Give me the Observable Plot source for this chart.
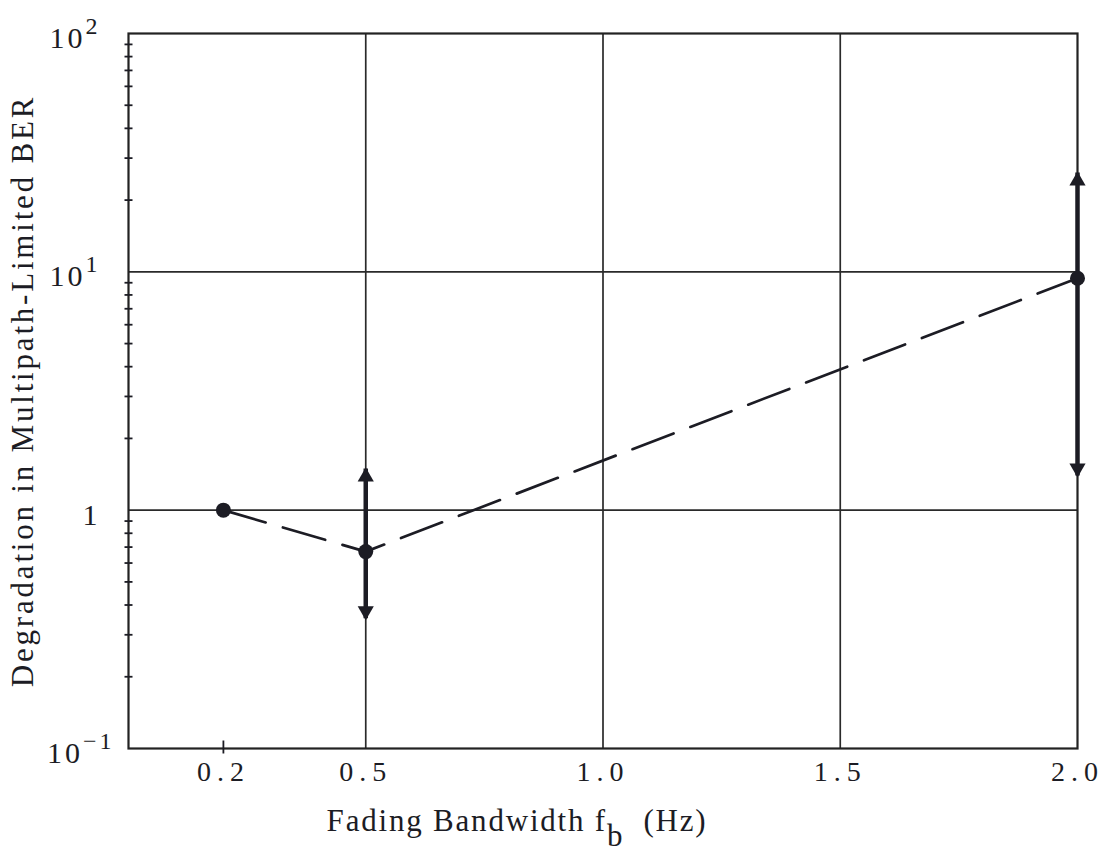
<!DOCTYPE html>
<html><head><meta charset="utf-8">
<script src="https://cdn.jsdelivr.net/npm/d3@7"></script>
<script src="https://cdn.jsdelivr.net/npm/@observablehq/plot@0.6"></script>
<style>body{margin:0;background:#fff;} svg{display:block}</style>
</head><body><div id="chart"></div>
<script>
// Data
const fadingBandwidth = [0.2, 0.5, 2.0];
const degradation = [1.0, 0.67, 9.4];
const errorBandwidth = [0.5, 2.0];
const errorLow = [0.35, 1.39];
const errorHigh = [1.49, 26];
// Axes
const xTicks = [0.2, 0.5, 1.0, 1.5, 2.0];
const xTickLabels = ["0.2", "0.5", "1.0", "1.5", "2.0"];
const yTicks = [0.1, 1, 10, 100];
const yTickLabels = ["10^-1", "1", "10^1", "10^2"];
const xGrid = [0.5, 1.0, 1.5];
const yGrid = [1, 10];
const yMinorTicks = [0.2, 0.3, 0.4, 0.5, 0.6, 0.7, 0.8, 0.9, 2, 3, 4, 5, 6, 7, 8, 9, 20, 30, 40, 50, 60, 70, 80, 90];
const xMinorTicks = [0.2];
const xLabel = "Fading Bandwidth f_b  (Hz)";
const yLabel = "Degradation in Multipath-Limited BER";

const ink = "#1c1c24";
const points = fadingBandwidth.map((x, i) => ({x, y: degradation[i]}));
const errors = errorBandwidth.map((x, i) => ({x, lo: errorLow[i], hi: errorHigh[i]}));

const hTick = {draw(ctx) { ctx.moveTo(-4, 0); ctx.lineTo(4, 0); }};
const vTick = {draw(ctx) { ctx.moveTo(0, -8); ctx.lineTo(0, 5); }};

const chart = Plot.plot({
  width: 1105,
  height: 862,
  marginLeft: 128,
  marginRight: 28,
  marginTop: 33,
  marginBottom: 114,
  style: {fontFamily: "'Liberation Serif', 'DejaVu Serif', serif", color: ink, background: "#fff"},
  x: {type: "linear", domain: [0, 2.0]},
  y: {type: "log", domain: [0.1, 100]},
  marks: [
    Plot.ruleX(xGrid, {stroke: "#2a2a2a", strokeWidth: 1.7}),
    Plot.ruleY(yGrid, {stroke: "#2a2a2a", strokeWidth: 1.7}),
    Plot.frame({stroke: "#222", strokeWidth: 2.2}),
    Plot.dot(yMinorTicks, {y: d => d, frameAnchor: "left", symbol: hTick, stroke: ink, fill: "none", strokeWidth: 1.8}),
    Plot.dot(xMinorTicks, {x: d => d, frameAnchor: "bottom", symbol: vTick, stroke: ink, fill: "none", strokeWidth: 1.8}),
    Plot.axisX({ticks: xTicks, tickSize: 0, tickPadding: 13, fontSize: 28, label: null,
      tickFormat: d => xTickLabels[xTicks.indexOf(d)]}),
    Plot.axisY({ticks: yTicks, tickSize: 0, tickPadding: 28, fontSize: 30, label: null, dy: 5,
      tickFormat: d => yTickLabels[yTicks.indexOf(d)]}),
    Plot.line(points, {x: "x", y: "y", stroke: ink, strokeWidth: 2.7, strokeDasharray: "44,18"}),
    Plot.ruleX(errors, {x: "x", y1: "lo", y2: "hi", stroke: ink, strokeWidth: 4.5}),
    Plot.dot(errors, {x: "x", y: "hi", symbol: "triangle", r: 6, fill: ink, dy: 8}),
    Plot.dot(errors, {x: "x", y: "lo", symbol: "triangle", r: 6, fill: ink, rotate: 180, dy: -8}),
    Plot.dot(points, {x: "x", y: "y", r: 7.5, fill: ink}),
    Plot.text([yLabel], {frameAnchor: "left", textAnchor: "middle", dx: -105, rotate: -90, fontSize: 31, fill: ink}),
    Plot.text([xLabel], {frameAnchor: "bottom", textAnchor: "middle", dx: -86, dy: 82, fontSize: 31, fill: ink})
  ]
});
document.getElementById("chart").appendChild(chart);

const svg = d3.select(chart);
// superscripts on y tick labels
svg.selectAll('g[aria-label="y-axis tick label"] text').each(function() {
  const t = d3.select(this);
  const s = this.textContent;
  const m = s.split("^");
  t.style("letter-spacing", "3px");
  if (m.length === 2) {
    t.text(m[0]);
    t.append("tspan").attr("dy", "-0.6em").attr("font-size", "0.8em").text(m[1].replace("-", "\u2212"));
    if (m[1].startsWith("-")) t.attr("dx", 14);
  }
});
svg.selectAll('g[aria-label="x-axis tick label"] text').style("letter-spacing", "6px");
// subscript on x label, spacing on labels
svg.selectAll("text").each(function() {
  if (this.textContent === xLabel) {
    const t = d3.select(this).style("white-space", "pre").style("letter-spacing", "1.8px");
    const [a, rest] = xLabel.split("_");
    t.text(a);
    t.append("tspan").attr("dy", "0.5em").text(rest[0]);
    t.append("tspan").attr("dy", "-0.5em").text(rest.slice(1));
  } else if (this.textContent === yLabel) {
    d3.select(this).style("letter-spacing", "2.8px");
  }
});
</script></body></html>
